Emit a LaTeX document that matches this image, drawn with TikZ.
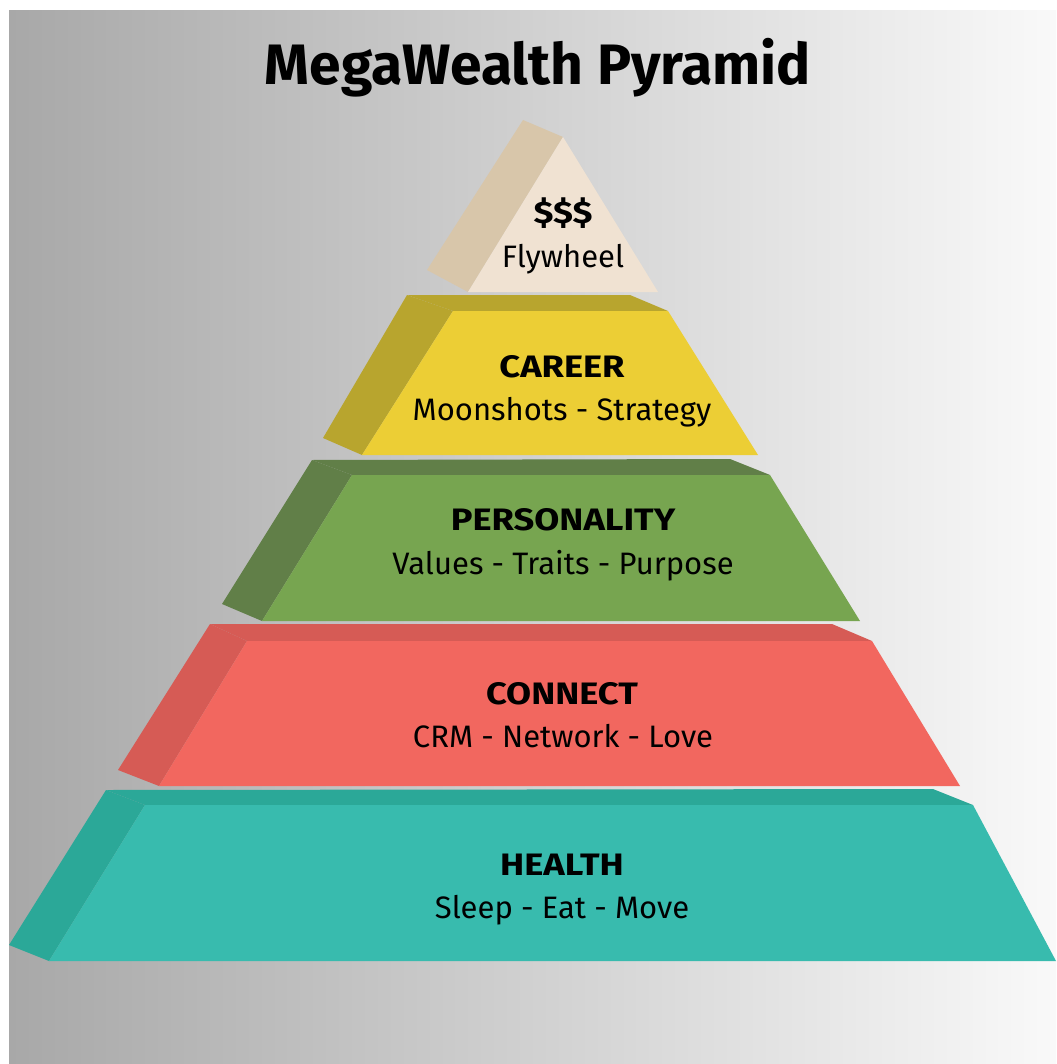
\documentclass[tikz,border=0pt]{standalone}
\usepackage{fontspec}
\setmainfont{Fira Sans}
\newfontfamily\headfont[FakeStretch=1.17]{Fira Sans}
\definecolor{bgL}{HTML}{A8A8A8}
\definecolor{bgR}{HTML}{F9F9F9}
\definecolor{tealF}{HTML}{38BBAE}
\definecolor{tealD}{HTML}{2BA898}
\definecolor{redF}{HTML}{F2675F}
\definecolor{redD}{HTML}{D65B55}
\definecolor{grnF}{HTML}{77A550}
\definecolor{grnD}{HTML}{617F48}
\definecolor{yelF}{HTML}{ECCE35}
\definecolor{yelD}{HTML}{B8A52E}
\definecolor{topF}{HTML}{F0E2D2}
\definecolor{topD}{HTML}{D8C6AA}
\tikzset{
  head/.style={anchor=base, inner sep=0pt, font=\headfont\fontsize{31}{36}\selectfont\bfseries},
  sub/.style={anchor=base, inner sep=0pt, font=\fontsize{31}{36}\selectfont},
  ttl/.style={anchor=base, inner sep=0pt, font=\fontsize{57}{66}\selectfont\bfseries}
}
\begin{document}
\begin{tikzpicture}[x=1pt,y=-1pt]
\useasboundingbox (0,0) rectangle (1056,1064);
\fill[white] (0,0) rectangle (1056,1064);
\shade[left color=bgL, right color=bgR] (9,11) rectangle (1056,1064);
% HEALTH
\fill[tealD] (106,790) -- (933,789) -- (973,805) -- (145,805) -- cycle;
\fill[tealD] (106,790) -- (145,805) -- (49,961) -- (9,945) -- cycle;
\fill[tealF] (145,805) -- (973,805) -- (1056,961) -- (49,961) -- cycle;
% CONNECT
\fill[redD] (210,624) -- (832,624) -- (872,641) -- (247,641) -- cycle;
\fill[redD] (210,624) -- (247,641) -- (159,786) -- (118,770) -- cycle;
\fill[redF] (247,641) -- (872,641) -- (960,786) -- (159,786) -- cycle;
% PERSONALITY
\fill[grnD] (312,460) -- (730,459) -- (770,475) -- (352,475) -- cycle;
\fill[grnD] (312,460) -- (352,475) -- (262,621) -- (222,604) -- cycle;
\fill[grnF] (352,475) -- (770,475) -- (860,621) -- (262,621) -- cycle;
% CAREER
\fill[yelD] (407,295) -- (630,295) -- (668,311) -- (453,311) -- cycle;
\fill[yelD] (407,295) -- (453,311) -- (362,455) -- (323,438) -- cycle;
\fill[yelF] (453,311) -- (668,311) -- (758,455) -- (362,455) -- cycle;
% TOP
\fill[topD] (523,120) -- (563,137) -- (468,292) -- (427,270) -- cycle;
\fill[topF] (563,137) -- (658,292) -- (468,292) -- cycle;
% texts
\node[ttl] (title) at (538,85) {MegaWealth Pyramid};
\node[head] (t1) at (563,224) {\$\$\$};
\node[sub] (t2) at (563,268) {Flywheel};
\node[head] (c1) at (562,377) {CAREER};
\node[sub] (c2) at (562,420) {Moonshots - Strategy};
\node[head] (p1) at (563,530) {PERSONALITY};
\node[sub] (p2) at (563,574) {Values - Traits - Purpose};
\node[head] (n1) at (562,704) {CONNECT};
\node[sub] (n2) at (563,747) {CRM - Network - Love};
\node[head] (h1) at (562,875) {HEALTH};
\node[sub] (h2) at (562,918) {Sleep - Eat - Move};
\end{tikzpicture}
\end{document}
